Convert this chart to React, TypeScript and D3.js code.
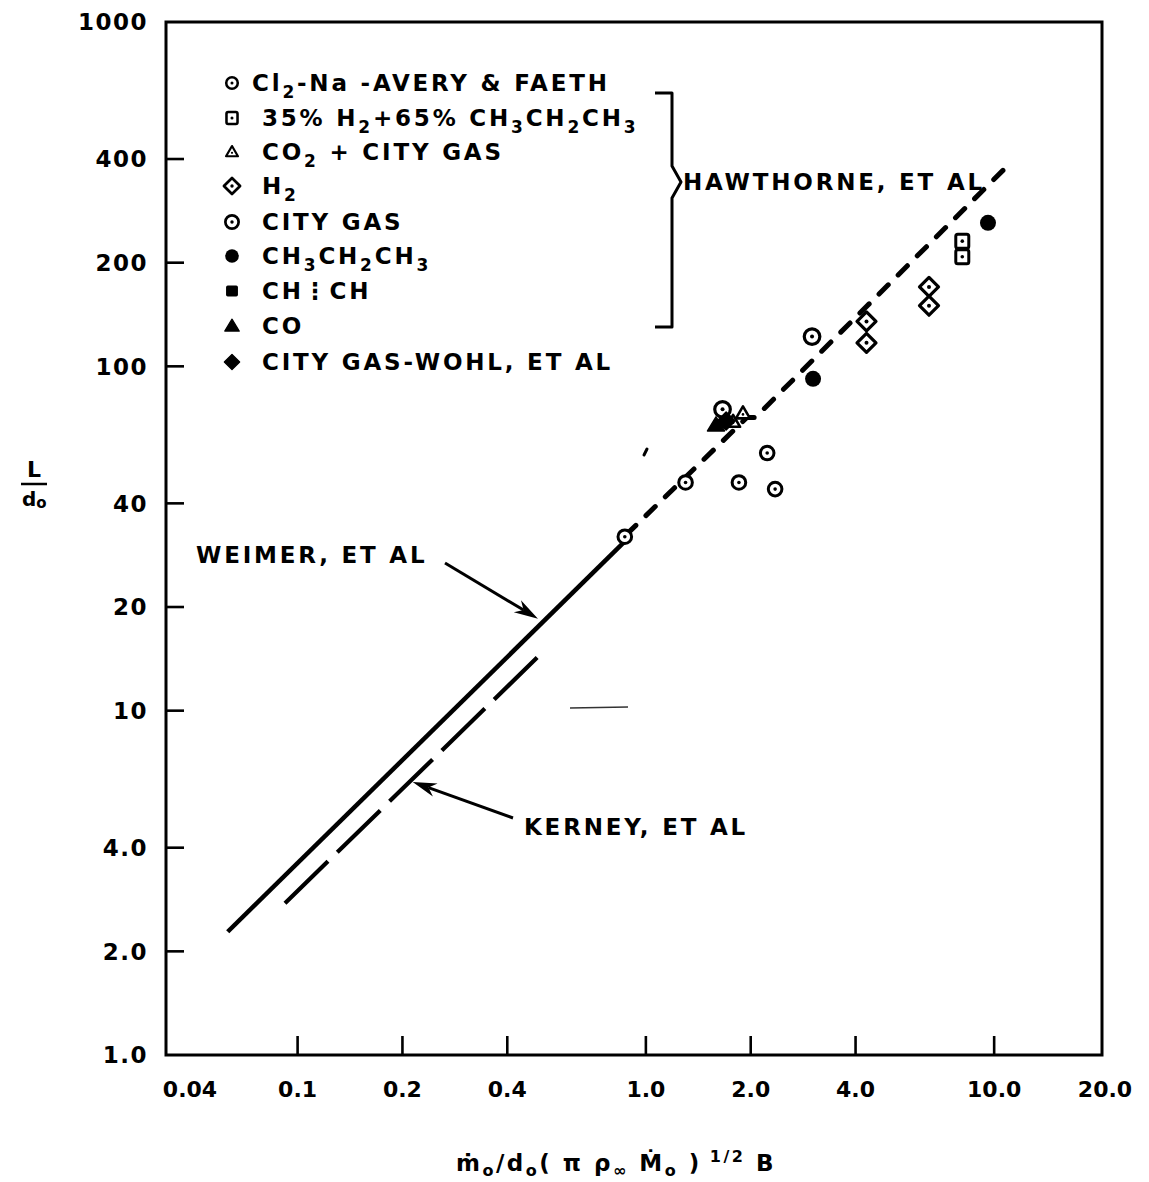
import React from "react";
import * as d3 from "d3";

const W = 1149;
const H = 1182;

// Axis ticks
const xTicks = [0.04, 0.1, 0.2, 0.4, 1, 2, 4, 10, 20];
const xTickLabels = ["0.04", "0.1", "0.2", "0.4", "1.0", "2.0", "4.0", "10.0", "20.0"];
const yTicks = [1, 2, 4, 10, 20, 40, 100, 200, 400, 1000];
const yTickLabels = ["1.0", "2.0", "4.0", "10", "20", "40", "100", "200", "400", "1000"];

// Data series (x = m0/d0(pi rho Mdot)^1/2 B, y = L/d0)
const averyFaeth = [
  { x: 0.87, y: 32 },
  { x: 1.3, y: 46 },
  { x: 1.85, y: 46 },
  { x: 2.23, y: 56 },
  { x: 2.35, y: 44 },
];
const h2Propane = [
  { x: 8.1, y: 231 },
  { x: 8.1, y: 208 },
];
const co2CityGas = [
  { x: 1.9, y: 73 },
  { x: 1.78, y: 69 },
];
const hydrogen = [
  { x: 4.3, y: 135 },
  { x: 4.3, y: 117 },
  { x: 6.5, y: 170 },
  { x: 6.5, y: 150 },
];
const cityGas = [
  { x: 1.66, y: 75 },
  { x: 3.0, y: 122 },
];
const propane = [
  { x: 3.02, y: 92 },
  { x: 9.6, y: 261 },
];
const acetylene: { x: number; y: number }[] = [];
const carbonMonoxide = [{ x: 1.59, y: 67.6 }];
const wohlCityGas = [{ x: 1.7, y: 69.4 }];

// Correlation lines
const weimerLine = [
  { x: 0.063, y: 2.28 },
  { x: 0.87, y: 31 },
];
const kerneyLine = [
  { x: 0.092, y: 2.76 },
  { x: 0.506, y: 14.8 },
];
const hawthorneLine = [
  { x: 0.88, y: 32.5 },
  { x: 1.95, y: 71 },
  { x: 2.06, y: 71 },
  { x: 11.2, y: 392 },
];

type Seg = { t: string; sub?: boolean; sup?: boolean };
const legendLabels: Seg[][] = [
  [{ t: "Cl" }, { t: "2", sub: true }, { t: "-Na -AVERY & FAETH" }],
  [{ t: "35% H" }, { t: "2", sub: true }, { t: "+65% CH" }, { t: "3", sub: true }, { t: "CH" }, { t: "2", sub: true }, { t: "CH" }, { t: "3", sub: true }],
  [{ t: "CO" }, { t: "2", sub: true }, { t: " + CITY GAS" }],
  [{ t: "H" }, { t: "2", sub: true }],
  [{ t: "CITY GAS" }],
  [{ t: "CH" }, { t: "3", sub: true }, { t: "CH" }, { t: "2", sub: true }, { t: "CH" }, { t: "3", sub: true }],
  [{ t: "CH\u22EECH" }],
  [{ t: "CO" }],
  [{ t: "CITY GAS-WOHL, ET AL" }],
];
const legendKinds = [
  "circleDotSmall",
  "squareDot",
  "triangleOpen",
  "diamondDot",
  "circleDot",
  "circleFilled",
  "squareFilled",
  "triangleFilled",
  "diamondFilled",
];
const seriesList = [averyFaeth, h2Propane, co2CityGas, hydrogen, cityGas, propane, acetylene, carbonMonoxide, wohlCityGas];

const xTitle: Seg[] = [
  { t: "\u1E41" }, { t: "o", sub: true }, { t: "/d" }, { t: "o", sub: true }, { t: "( \u03C0 \u03C1" }, { t: "\u221E", sub: true },
  { t: " \u1E40" }, { t: "o", sub: true }, { t: " )" }, { t: "  1/2", sup: true }, { t: "  B" },
];

const FONT = "DejaVu Sans";

const x = d3.scaleLog().domain([0.04, 20]).range([159, 1099]);
const y = d3.scaleLog().domain([1, 1000]).range([1055, 22]);
const frame = { left: 166, right: 1102, top: 22, bottom: 1055 };

const line = d3
  .line<{ x: number; y: number }>()
  .x((d) => x(d.x))
  .y((d) => y(d.y));

function Marker({ kind, cx, cy, s = 1 }: { kind: string; cx: number; cy: number; s?: number }) {
  const tr = `translate(${cx},${cy}) scale(${s})`;
  switch (kind) {
    case "circleDotSmall":
      return (
        <g transform={tr}>
          <circle r={6.8} fill="#fff" stroke="#000" strokeWidth={3} />
          <circle r={1.8} fill="#000" />
        </g>
      );
    case "circleDot":
      return (
        <g transform={tr}>
          <circle r={7.8} fill="#fff" stroke="#000" strokeWidth={3.2} />
          <circle r={2} fill="#000" />
        </g>
      );
    case "squareDot":
      return (
        <g transform={tr}>
          <rect x={-6.5} y={-7} width={13} height={14} rx={2} fill="#fff" stroke="#000" strokeWidth={3} />
          <circle r={1.8} fill="#000" />
        </g>
      );
    case "diamondDot":
      return (
        <g transform={tr}>
          <path d="M0,-9.5L9.5,0L0,9.5L-9.5,0Z" fill="#fff" stroke="#000" strokeWidth={3.2} strokeLinejoin="round" />
          <circle r={2} fill="#000" />
        </g>
      );
    case "triangleOpen":
      return (
        <g transform={tr}>
          <path d="M0,-7L7,5L-7,5Z" fill="#fff" stroke="#000" strokeWidth={2.6} strokeLinejoin="round" />
          <circle r={1.3} cy={1} fill="#000" />
        </g>
      );
    case "circleFilled":
      return (
        <g transform={tr}>
          <circle r={8} fill="#000" />
        </g>
      );
    case "squareFilled":
      return (
        <g transform={tr}>
          <rect x={-7} y={-6.5} width={14} height={13} rx={2} fill="#000" />
        </g>
      );
    case "triangleFilled":
      return (
        <g transform={tr}>
          <path d="M0,-8L8.5,6L-8.5,6Z" fill="#000" stroke="#000" strokeWidth={1.5} strokeLinejoin="round" />
        </g>
      );
    case "diamondFilled":
      return (
        <g transform={tr}>
          <path d="M0,-9L9,0L0,9L-9,0Z" fill="#000" stroke="#000" strokeWidth={1.5} strokeLinejoin="round" />
        </g>
      );
    default:
      return null;
  }
}

function RichText({ segs, size, subSize, subDy, supDy = -10 }: { segs: Seg[]; size: number; subSize: number; subDy: number; supDy?: number }) {
  const out: React.ReactNode[] = [];
  let shift = 0;
  segs.forEach((s, i) => {
    const target = s.sub ? subDy : s.sup ? supDy : 0;
    const dy = target - shift;
    shift = target;
    out.push(
      <tspan key={i} dy={dy || undefined} fontSize={s.sub || s.sup ? subSize : size}>
        {s.t}
      </tspan>
    );
  });
  return <>{out}</>;
}

function Arrow({ x1, y1, x2, y2 }: { x1: number; y1: number; x2: number; y2: number }) {
  const ang = Math.atan2(y2 - y1, x2 - x1);
  const L = 24;
  const wdt = 7;
  const bx = x2 - L * Math.cos(ang);
  const by = y2 - L * Math.sin(ang);
  const px = -Math.sin(ang) * wdt;
  const py = Math.cos(ang) * wdt;
  const nx = x2 - (L * 0.7) * Math.cos(ang);
  const ny = y2 - (L * 0.7) * Math.sin(ang);
  return (
    <g>
      <line x1={x1} y1={y1} x2={nx} y2={ny} stroke="#000" strokeWidth={3} />
      <path d={`M${x2},${y2}L${bx + px},${by + py}L${nx},${ny}L${bx - px},${by - py}Z`} fill="#000" />
    </g>
  );
}

export default function App() {
  const legendY = [83, 118, 152, 186, 222, 256, 291, 326, 362];
  const legendSymX = 232;
  const legendTextX = 262;
  const LS = 2.8;

  return (
    <svg
      width={W}
      height={H}
      viewBox={`0 0 ${W} ${H}`}
      style={{ position: "absolute", left: 0, top: 0, background: "#fff" }}
      fontFamily={FONT}
      fontWeight="bold"
    >
      <rect width={W} height={H} fill="#fff" />

      {/* frame */}
      <rect
        x={frame.left}
        y={frame.top}
        width={frame.right - frame.left}
        height={frame.bottom - frame.top}
        fill="none"
        stroke="#000"
        strokeWidth={3}
      />

      {/* y ticks */}
      {yTicks.map((v, i) => (
        <g key={"yt" + i}>
          {v > 1 && v < 1000 && (
            <line x1={frame.left} x2={frame.left + 18} y1={y(v)} y2={y(v)} stroke="#000" strokeWidth={2.6} />
          )}
          <text
            x={148}
            y={y(v)}
            dy="0.36em"
            textAnchor="end"
            fontSize={23}
            letterSpacing={1.5}
          >
            {yTickLabels[i]}
          </text>
        </g>
      ))}

      {/* x ticks */}
      {xTicks.map((v, i) => (
        <g key={"xt" + i}>
          {v > 0.04 && v < 20 && (
            <line x1={x(v)} x2={x(v)} y1={frame.bottom} y2={frame.bottom - 19} stroke="#000" strokeWidth={2.6} />
          )}
          <text
            x={x(v) + (i === 0 ? 31 : i === xTicks.length - 1 ? 6 : 0)}
            y={1097}
            textAnchor="middle"
            fontSize={22}
          >
            {xTickLabels[i]}
          </text>
        </g>
      ))}

      {/* axis titles */}
      <text x={456} y={1171} fontSize={23} letterSpacing={2.5}>
        <RichText segs={xTitle} size={23} subSize={16} subDy={5} supDy={-9} />
      </text>
      <text x={34} y={477} textAnchor="middle" fontSize={22}>L</text>
      <line x1={21} x2={47} y1={484} y2={484} stroke="#000" strokeWidth={2.5} />
      <text x={22} y={506} fontSize={20}>
        <RichText segs={[{ t: "d" }, { t: "o", sub: true }]} size={20} subSize={15} subDy={2} />
      </text>

      {/* correlation lines */}
      <path d={line(weimerLine) || ""} fill="none" stroke="#000" strokeWidth={4.5} />
      <path d={line(kerneyLine) || ""} fill="none" stroke="#000" strokeWidth={4.2} strokeDasharray="60,13" />
      <path
        d={line(hawthorneLine) || ""}
        fill="none"
        stroke="#000"
        strokeWidth={5}
        strokeDasharray="13,14"
        strokeLinecap="round"
        strokeLinejoin="round"
      />

      {/* data points */}
      {seriesList.map((series, si) =>
        series.map((d, j) => (
          <Marker key={`p${si}-${j}`} kind={legendKinds[si]} cx={x(d.x)} cy={y(d.y)} />
        ))
      )}

      {/* legend */}
      {legendLabels.map((segs, i) => (
        <g key={"lg" + i}>
          <Marker kind={legendKinds[i]} cx={legendSymX} cy={legendY[i]} s={0.85} />
          <text x={i === 0 ? 252 : legendTextX} y={legendY[i] + 8} fontSize={23} letterSpacing={LS}>
            <RichText segs={segs} size={23} subSize={17} subDy={7} />
          </text>
        </g>
      ))}

      {/* Hawthorne brace */}
      <path
        d="M655,93H672V166L681,182L672,198V327H655"
        fill="none"
        stroke="#000"
        strokeWidth={3}
        strokeLinejoin="round"
      />
      <text x={683} y={190} fontSize={23} letterSpacing={LS}>HAWTHORNE, ET AL</text>

      {/* annotations */}
      <text x={196} y={563} fontSize={23} letterSpacing={LS}>WEIMER, ET AL</text>
      <Arrow x1={445} y1={563} x2={x(0.49)} y2={y(18.5)} />
      <text x={524} y={835} fontSize={23} letterSpacing={LS}>KERNEY, ET AL</text>
      <Arrow x1={513} y1={818} x2={x(0.214)} y2={y(6.21)} />

      {/* scan marks */}
      <line x1={570} x2={628} y1={708} y2={707} stroke="#333" strokeWidth={1.3} />
      <line x1={644} x2={647} y1={455} y2={449} stroke="#000" strokeWidth={3} strokeLinecap="round" />
    </svg>
  );
}
